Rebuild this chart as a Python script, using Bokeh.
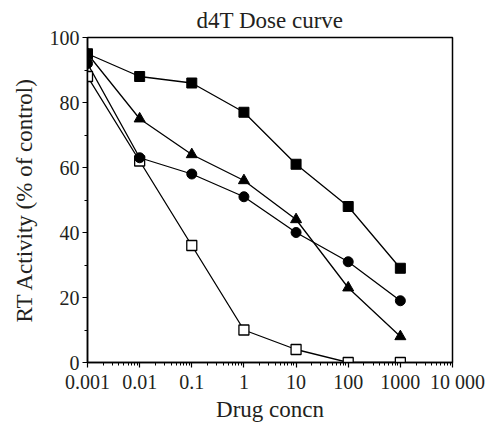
from bokeh.plotting import figure
from bokeh.models import FixedTicker, CustomJSTickFormatter, ColumnDataSource
from bokeh.embed import file_html
from bokeh.resources import INLINE

conc = [0.001, 0.01, 0.1, 1, 10, 100, 1000]
series_filled_square = [95, 88, 86, 77, 61, 48, 29]
series_triangle = [95, 75, 64, 56, 44, 23, 8]
series_circle = [92, 63, 58, 51, 40, 31, 19]
series_open_square = [88, 62, 36, 10, 4, 0, 0]

x_ticks = [0.001, 0.01, 0.1, 1, 10, 100, 1000, 10000]
x_tick_labels = ["0.001", "0.01", "0.1", "1", "10", "100", "1000", "\u00a0\u00a010 000"]
y_ticks = [0, 20, 40, 60, 80, 100]
y_minor = [10, 30, 50, 70, 90]

FONT = "Liberation Serif"

p = figure(width=489, height=425, x_axis_type="log",
           x_range=(0.001, 10000), y_range=(0, 100),
           output_backend="svg", toolbar_location=None,
           title="d4T Dose curve",
           min_border_left=87, min_border_right=37, min_border_top=37, min_border_bottom=63)

p.title.align = "center"
p.title.text_font = FONT
p.title.text_font_size = "23px"
p.title.text_font_style = "normal"
p.title.text_color = "#231f20"
p.title.offset = 0

p.xgrid.visible = False
p.ygrid.visible = False
p.outline_line_color = "black"
p.outline_line_width = 1.5
p.background_fill_color = "white"
p.border_fill_color = "white"

minor_x = [m * 10 ** e for e in range(-3, 4) for m in range(2, 10)]
p.xaxis.ticker = FixedTicker(ticks=x_ticks, minor_ticks=minor_x)
p.xaxis.formatter = CustomJSTickFormatter(args=dict(labels=x_tick_labels, vals=x_ticks),
    code="""
let best = 0, bd = 1e9;
for (let i = 0; i < vals.length; i++) {
  const d = Math.abs(Math.log10(vals[i]) - Math.log10(tick));
  if (d < bd) { bd = d; best = i; }
}
return labels[best];
""")
p.yaxis.ticker = FixedTicker(ticks=y_ticks, minor_ticks=y_minor)

for ax in (p.xaxis[0], p.yaxis[0]):
    ax.axis_line_color = "black"
    ax.axis_line_width = 1.5
    ax.major_tick_line_color = "black"
    ax.minor_tick_line_color = "black"
    ax.major_tick_line_width = 1.2
    ax.minor_tick_line_width = 1
    ax.major_tick_out = 5
    ax.major_tick_in = 0
    ax.minor_tick_out = 3
    ax.minor_tick_in = 0
    ax.major_label_text_font = FONT
    ax.major_label_text_font_size = "20px"
    ax.major_label_text_color = "#231f20"
    ax.axis_label_text_font = FONT
    ax.axis_label_text_font_size = "23px"
    ax.axis_label_text_font_style = "normal"
    ax.axis_label_text_color = "#231f20"

p.xaxis.axis_label = "Drug concn"
p.yaxis.axis_label = "RT Activity (% of control)"
p.xaxis.major_label_standoff = 3
p.yaxis.major_label_standoff = 3
p.xaxis.axis_label_standoff = 1
p.yaxis.axis_label_standoff = 10

src = ColumnDataSource(dict(x=conc, sq=series_filled_square, tri=series_triangle,
                            cir=series_circle, osq=series_open_square))

for col in ["osq", "cir", "tri", "sq"]:
    p.line("x", col, source=src, line_color="black", line_width=1.3)

p.scatter("x", "osq", source=src, marker="square", size=10, fill_color="white",
          line_color="black", line_width=1.3)
p.scatter("x", "cir", source=src, marker="circle", size=10, fill_color="black",
          line_color="black")
p.scatter("x", "tri", source=src, marker="triangle", size=11, fill_color="black",
          line_color="black")
p.scatter("x", "sq", source=src, marker="square", size=10, fill_color="black",
          line_color="black")

open("out.html", "w").write(file_html(p, INLINE))
